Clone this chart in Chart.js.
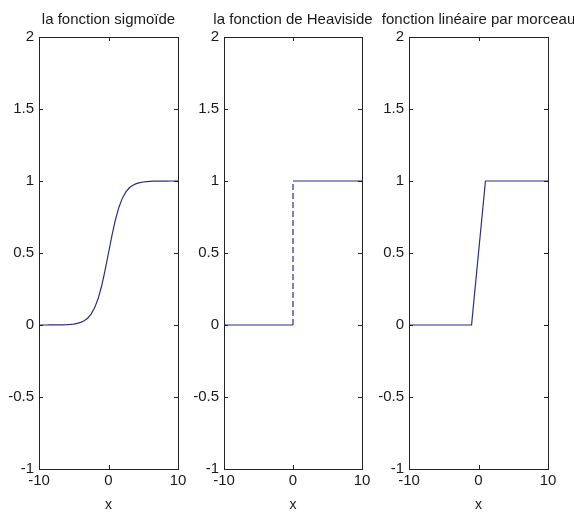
<!DOCTYPE html>
<html>
<head>
<meta charset="utf-8">
<script src="https://cdn.jsdelivr.net/npm/chart.js@4"></script>
<style>
html,body{margin:0;padding:0;background:#fff;}
#wrap{position:relative;width:574px;height:514px;}
canvas{position:absolute;left:0;top:0;}
</style>
</head>
<body>
<div id="wrap">
<canvas id="c1" width="574" height="514"></canvas>
<canvas id="c2" width="574" height="514"></canvas>
<canvas id="c3" width="574" height="514"></canvas>
</div>
<script>
// ---- data ----
const titles = ["la fonction sigmoïde", "la fonction de Heaviside", "fonction linéaire par morceau"];
const xLabel = "x";
const xTicks = [-10, 0, 10];
const yTicks = [-1, -0.5, 0, 0.5, 1, 1.5, 2];

const sigmoidX = [-10,-9.5,-9,-8.5,-8,-7.5,-7,-6.5,-6,-5.5,-5,-4.5,-4,-3.5,-3,-2.5,-2,-1.5,-1,-0.5,0,
                  0.5,1,1.5,2,2.5,3,3.5,4,4.5,5,5.5,6,6.5,7,7.5,8,8.5,9,9.5,10];
const sigmoidY = [0,0.0001,0.0001,0.0002,0.0003,0.0006,0.0009,0.0015,0.0025,0.0041,0.0067,0.011,0.018,0.029,0.047,0.076,0.119,0.182,0.269,0.378,0.5,
                  0.622,0.731,0.818,0.881,0.924,0.953,0.971,0.982,0.989,0.993,0.996,0.9975,0.9985,0.9991,0.9994,0.9997,0.9998,0.9999,0.9999,1];

const heavisideX = [-10, 0, 0, 10];
const heavisideY = [0, 0, 1, 1];

const lineaireX = [-10, -1, 1, 10];
const lineaireY = [0, 0, 1, 1];

// ---- layout ----
const W = 574, H = 514;
const panelLeft = [39, 224, 409];
const panelRight = [178, 362, 548];
const plotTop = 37, plotBottom = 469;
const yAxisW = 30;
const lineColor = '#2c2c86';
const textColor = '#1a1a1a';
const fontFamily = '"Liberation Sans", Arial, sans-serif';

const framePlugin = {
  id: 'frame',
  afterDraw(chart, args, opts) {
    const ctx = chart.ctx, a = chart.chartArea;
    const xs = chart.scales.x, ys = chart.scales.y;
    ctx.save();
    ctx.strokeStyle = '#222';
    ctx.lineWidth = 1;
    ctx.strokeRect(Math.round(a.left) + 0.5, Math.round(a.top) + 0.5,
                   Math.round(a.right - a.left), Math.round(a.bottom - a.top));
    const tl = 4;
    ctx.beginPath();
    yTicks.forEach(v => {
      const py = Math.round(ys.getPixelForValue(v)) + 0.5;
      ctx.moveTo(a.left, py); ctx.lineTo(a.left + tl, py);
      ctx.moveTo(a.right, py); ctx.lineTo(a.right - tl, py);
    });
    xTicks.forEach(v => {
      const px = Math.round(xs.getPixelForValue(v)) + 0.5;
      ctx.moveTo(px, a.top); ctx.lineTo(px, a.top + tl);
      ctx.moveTo(px, a.bottom); ctx.lineTo(px, a.bottom - tl);
    });
    ctx.stroke();
    // title
    ctx.fillStyle = textColor;
    ctx.font = '15px ' + fontFamily;
    ctx.textAlign = 'center';
    ctx.textBaseline = 'alphabetic';
    ctx.fillText(opts.text, (a.left + a.right) / 2, 24);
    ctx.restore();
  }
};

function makeChart(id, k, xs, ys, dashedSeg) {
  const pts = xs.map((x, i) => ({x: x, y: ys[i]}));
  new Chart(document.getElementById(id), {
    type: 'line',
    data: {
      datasets: [{
        data: pts,
        borderColor: lineColor,
        borderWidth: 1.2,
        pointRadius: 0,
        fill: false,
        tension: 0,
        segment: dashedSeg ? {
          borderDash: ctx => ctx.p0.parsed.x === ctx.p1.parsed.x ? [6, 3] : undefined
        } : undefined
      }]
    },
    options: {
      responsive: false,
      devicePixelRatio: 1,
      animation: false,
      layout: {
        padding: {left: panelLeft[k] - yAxisW, right: W - panelRight[k], top: plotTop, bottom: 0}
      },
      plugins: {
        legend: {display: false},
        tooltip: {enabled: false},
        title: {display: false},
        frame: {text: titles[k]}
      },
      scales: {
        x: {
          type: 'linear',
          min: xTicks[0], max: xTicks[xTicks.length - 1],
          afterBuildTicks: s => { s.ticks = xTicks.map(v => ({value: v})); },
          afterFit: s => { s.height = H - plotBottom; },
          grid: {display: false, drawTicks: false},
          border: {display: false},
          ticks: {color: textColor, font: {size: 15, family: fontFamily}, padding: 3, maxRotation: 0,
                  callback: v => String(v)},
          title: {display: true, text: xLabel, color: textColor, font: {size: 14, family: fontFamily},
                  padding: {top: 0, bottom: 0}}
        },
        y: {
          type: 'linear',
          min: yTicks[0], max: yTicks[yTicks.length - 1],
          afterBuildTicks: s => { s.ticks = yTicks.map(v => ({value: v})); },
          afterFit: s => { s.width = yAxisW; },
          grid: {display: false, drawTicks: false},
          border: {display: false},
          ticks: {color: textColor, font: {size: 15, family: fontFamily}, padding: 5,
                  callback: v => String(v)}
        }
      }
    },
    plugins: [framePlugin]
  });
}

makeChart('c1', 0, sigmoidX, sigmoidY, false);
makeChart('c2', 1, heavisideX, heavisideY, true);
makeChart('c3', 2, lineaireX, lineaireY, false);
</script>
</body>
</html>
